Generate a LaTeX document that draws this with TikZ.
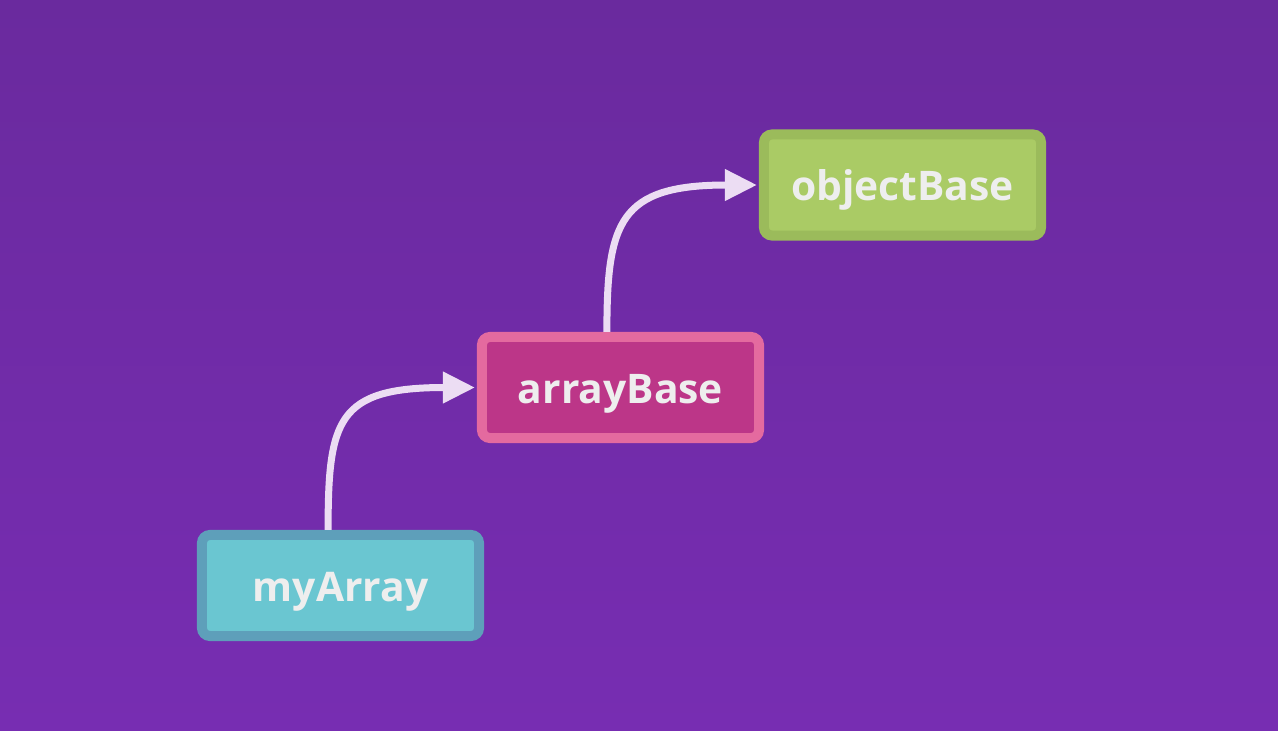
\documentclass[tikz,border=0pt]{standalone}
\usepackage{fontspec}
\setmainfont{Open Sans}
\usetikzlibrary{arrows.meta}

% Colours
\definecolor{bgtop}{HTML}{6A2A9E}
\definecolor{bgbottom}{HTML}{772DB2}
\definecolor{myfill}{HTML}{6AC6D1}
\definecolor{myedge}{HTML}{5E9FBA}
\definecolor{arrfill}{HTML}{BC3688}
\definecolor{arredge}{HTML}{E46A9F}
\definecolor{objfill}{HTML}{AACB65}
\definecolor{objedge}{HTML}{9BBB5B}
\definecolor{labeltext}{HTML}{EEEEEE}
\definecolor{linkline}{HTML}{ECDDF3}

\tikzset{
  protobox/.style={draw, line width=0.25cm, rounded corners=0.2cm,
    minimum width=6.925cm, minimum height=2.525cm, inner sep=0pt,
    text height=1.03cm, text depth=0.25cm,
    text=labeltext, font=\fontsize{29}{32}\selectfont\bfseries},
  protolink/.style={draw=linkline, line width=0.175cm,
    -{Triangle[length=0.8cm, width=0.75cm]}, shorten >=0.05cm}
}

\begin{document}
\begin{tikzpicture}[x=0.025cm, y=-0.025cm]

    % Background
    \shade[top color=bgtop, bottom color=bgbottom] (0,0) rectangle (1278,731);
    \useasboundingbox (0,0) rectangle (1278,731);

    % Draw boxes
    \node[protobox, fill=myfill, draw=myedge] (myArray) at (340.5,585.5) {myArray};
    \node[protobox, fill=arrfill, draw=arredge] (arrayBase) at (620.5,387.5) {arrayBase};
    \node[protobox, fill=objfill, draw=objedge] (objectBase) at (902.5,185) {objectBase};

    % Draw prototype links
    \draw[protolink] ([xshift=-0.31cm]myArray.north) .. controls +(0,-110) and +(-140,0) .. (arrayBase.west);
    \draw[protolink] ([xshift=-0.34cm]arrayBase.north) .. controls +(0,-110) and +(-140,0) .. (objectBase.west);

\end{tikzpicture}
\end{document}
